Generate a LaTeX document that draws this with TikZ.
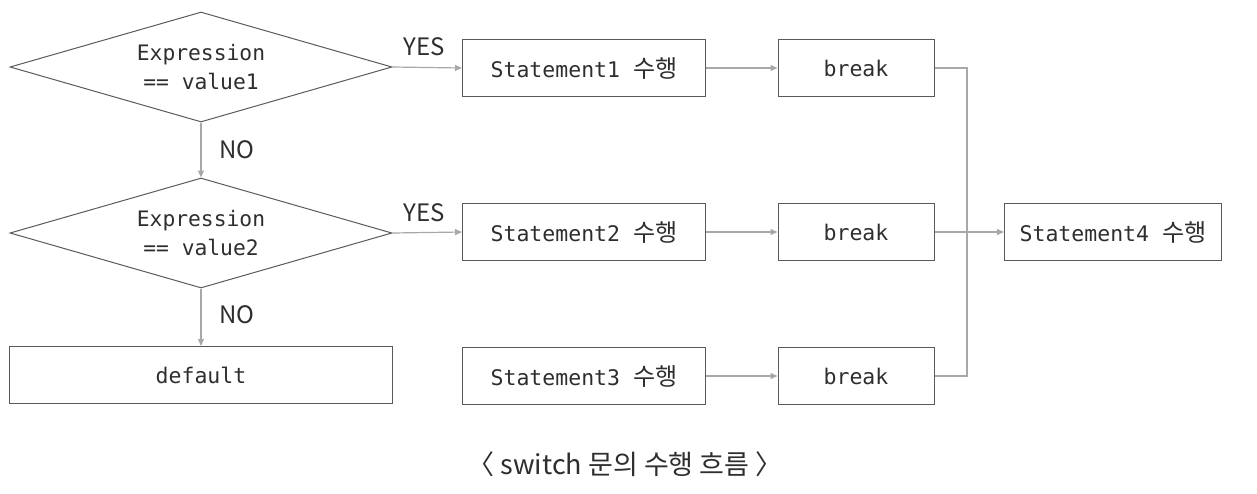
\documentclass[tikz,border=0pt]{standalone}
\usepackage{fontspec}
\setmainfont{Noto Sans CJK KR}
\setmonofont{DejaVu Sans Mono}
\newfontfamily\kr[Scale=1.12]{Noto Sans CJK KR}
\usetikzlibrary{shapes.geometric,arrows.meta}

\definecolor{boxgray}{HTML}{5A5A5A}
\definecolor{linegray}{HTML}{A8A8A8}
\definecolor{txtgray}{HTML}{2E2E2E}

\tikzset{
  cond/.style={diamond, draw=boxgray, line width=1pt, aspect=3.47,
    minimum width=382pt, minimum height=110pt, inner sep=0pt, align=center,
    font=\ttfamily\fontsize{21.3}{29}\selectfont, text=txtgray},
  stmt/.style={rectangle, draw=boxgray, line width=1pt, minimum height=57pt,
    font=\ttfamily\fontsize{21.5}{24}\selectfont, text=txtgray},
  flow/.style={draw=linegray, line width=1.2pt, -{Triangle[length=7pt,width=6pt]}},
  lbl/.style={font=\fontsize{24}{26}\selectfont, text=txtgray}
}

\begin{document}
\begin{tikzpicture}[x=1pt,y=-1pt]
\useasboundingbox (0,0) rectangle (1257,493);

% conditions
\node[cond] (c1) at (201,67) {Expression\\== value1};
\node[cond] (c2) at (201,233) {Expression\\== value2};
\node[stmt, minimum width=383pt] (dflt) at (201,375) {default};

% statements
\node[stmt, minimum width=243pt] (s1) at (584,68) {Statement1 {\kr 수행}};
\node[stmt, minimum width=243pt] (s2) at (584,232) {Statement2 {\kr 수행}};
\node[stmt, minimum width=243pt] (s3) at (584,376) {Statement3 {\kr 수행}};

% breaks
\node[stmt, minimum width=156pt] (b1) at (856,68) {break};
\node[stmt, minimum width=156pt] (b2) at (856,232) {break};
\node[stmt, minimum width=156pt] (b3) at (856,376) {break};

\node[stmt, minimum width=217pt] (s4) at (1113,232) {Statement4 {\kr 수행}};

% flow
\draw[flow] (c1.south) -- (c2.north);
\draw[flow] (c2.south) -- (dflt.north);
\draw[flow] (c1.east) -- (s1.west);
\draw[flow] (c2.east) -- (s2.west);
\draw[flow] (s1) -- (b1);
\draw[flow] (s2) -- (b2);
\draw[flow] (s3) -- (b3);

% joining line
\coordinate (jn) at (967,232);
\draw[draw=linegray, line width=1.2pt] (b1.east) -| (jn) |- (b3.east);
\draw[flow] (b2.east) -- (s4.west);

\node[lbl] (yes1) at (424,47) {YES};
\node[lbl] (yes2) at (424,213) {YES};
\node[lbl] (no1) at (237,150) {NO};
\node[lbl] (no2) at (237,315) {NO};

\node[font=\fontsize{27}{30}\selectfont, text=txtgray] (cap) at (625,464) {〈 switch 문의 수행 흐름 〉};

\end{tikzpicture}
\end{document}
